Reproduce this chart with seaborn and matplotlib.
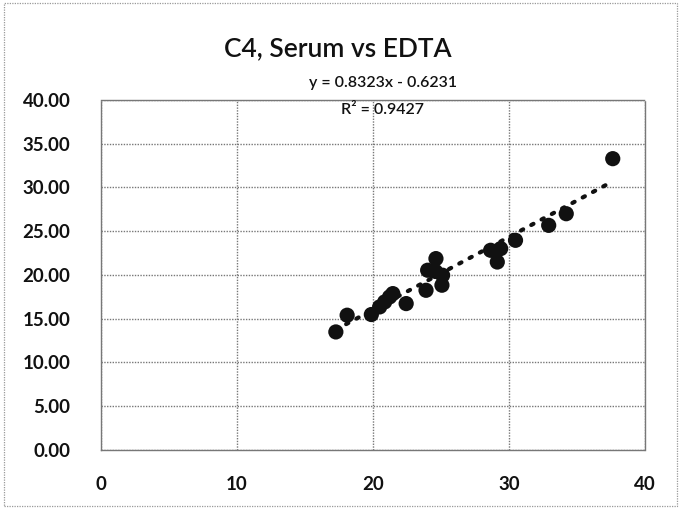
import numpy as np
import pandas as pd
import matplotlib
matplotlib.use("Agg")
import matplotlib.pyplot as plt
import seaborn as sns
from matplotlib.patches import Rectangle

# values
serum = [17.27, 18.10, 19.88, 20.49, 20.86, 21.22, 21.46, 22.44, 23.90, 24.02,
         24.63, 25.12, 25.07, 24.60, 28.65, 29.39, 29.14, 30.48, 32.92, 34.21, 37.63]
edta = [13.49, 15.40, 15.48, 16.35, 16.92, 17.49, 17.87, 16.73, 18.25, 20.54,
        21.87, 19.97, 18.83, 20.40, 22.82, 23.01, 21.48, 23.96, 25.67, 27.00, 33.29]
slope = 0.8323
intercept = -0.6231
r2 = 0.9427
x_ticks = [0, 10, 20, 30, 40]
y_ticks = [0, 5, 10, 15, 20, 25, 30, 35, 40]

df = pd.DataFrame({"serum": serum, "edta": edta})

sns.set_style("white")
plt.rcParams['font.family'] = ['Lato', 'DejaVu Sans']

fig = plt.figure(figsize=(6.8, 5.11), dpi=100)
ax = fig.add_axes([0.1485, 0.1194, 0.80, 0.685])

sns.scatterplot(data=df, x="serum", y="edta", ax=ax, s=120, color="#111111",
                edgecolor="none", zorder=3)

xs = np.linspace(min(serum), max(serum), 50)
ax.plot(xs, slope * xs + intercept, color="#111111", linestyle=(0, (0.6, 2.2)),
        linewidth=3.0, dash_capstyle="round", zorder=2)

ax.set_xlim(0, 40)
ax.set_ylim(0, 40)
ax.set_xticks(x_ticks)
ax.set_yticks(y_ticks)
ax.set_yticklabels([f"{v:.2f}" for v in y_ticks])
ax.set_xlabel("")
ax.set_ylabel("")
ax.tick_params(axis="y", length=0, pad=22, labelsize=13.5, labelcolor="#111111")
ax.tick_params(axis="x", length=0, pad=19, labelsize=13.5, labelcolor="#111111")
for lbl in ax.get_xticklabels() + ax.get_yticklabels():
    lbl.set_fontweight("bold")

ax.grid(True, color="#777777", linestyle=(0, (1, 1)), linewidth=1.0)
for sp in ax.spines.values():
    sp.set_color("#777777")
    sp.set_linestyle((0, (1, 1)))
    sp.set_linewidth(1.0)

fig.text(0.497, 0.905, "C4, Serum vs EDTA", ha="center", va="center",
         fontsize=19, color="#111111", fontweight="semibold")
fig.text(0.563, 0.838, f"y = {slope}x - {abs(intercept)}", ha="center",
         va="center", fontsize=11.5, color="#111111", fontweight="semibold")
fig.text(0.563, 0.785, f"R\u00b2 = {r2}", ha="center", va="center",
         fontsize=11.5, color="#111111", fontweight="semibold")

fig.patches.append(Rectangle((0.006, 0.01), 0.99, 0.985, transform=fig.transFigure,
                             fill=False, edgecolor="#999999", linewidth=0.9,
                             linestyle=(0, (1, 1))))

fig.savefig("out.png", dpi=100)
